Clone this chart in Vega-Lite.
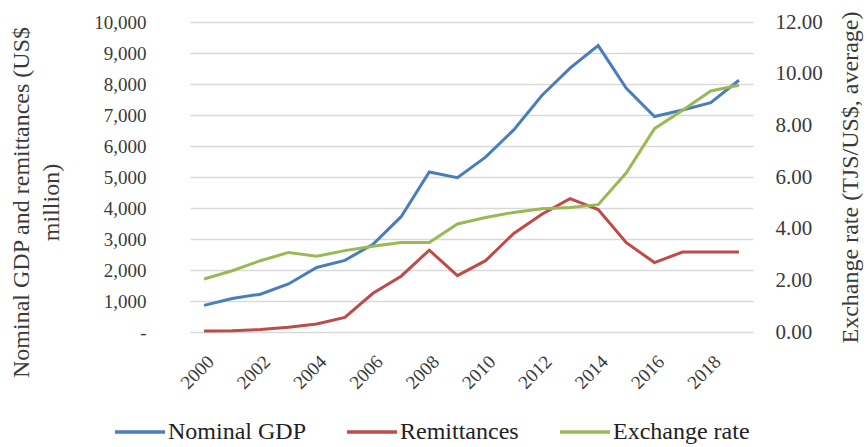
{
  "$schema": "https://vega.github.io/schema/vega-lite/v6.json",
  "width": 563,
  "height": 310,
  "autosize": {"type": "none"},
  "padding": {"left": 190, "top": 22, "right": 114, "bottom": 115},
  "background": "white",
  "config": {
    "font": "Liberation Serif",
    "view": {"stroke": null},
    "axis": {"labelFont": "Liberation Serif", "titleFont": "Liberation Serif", "labelColor": "#3a3a3a", "titleColor": "#3a3a3a", "titleFontWeight": "normal"},
    "legend": {"labelFont": "Liberation Serif"}
  },
  "data": {
    "values": [
      {"year": "2000", "series": "Nominal GDP", "value": 860},
      {"year": "2001", "series": "Nominal GDP", "value": 1080},
      {"year": "2002", "series": "Nominal GDP", "value": 1220},
      {"year": "2003", "series": "Nominal GDP", "value": 1550},
      {"year": "2004", "series": "Nominal GDP", "value": 2080},
      {"year": "2005", "series": "Nominal GDP", "value": 2310},
      {"year": "2006", "series": "Nominal GDP", "value": 2830},
      {"year": "2007", "series": "Nominal GDP", "value": 3720},
      {"year": "2008", "series": "Nominal GDP", "value": 5160},
      {"year": "2009", "series": "Nominal GDP", "value": 4980},
      {"year": "2010", "series": "Nominal GDP", "value": 5640},
      {"year": "2011", "series": "Nominal GDP", "value": 6520},
      {"year": "2012", "series": "Nominal GDP", "value": 7630},
      {"year": "2013", "series": "Nominal GDP", "value": 8510},
      {"year": "2014", "series": "Nominal GDP", "value": 9240},
      {"year": "2015", "series": "Nominal GDP", "value": 7860},
      {"year": "2016", "series": "Nominal GDP", "value": 6950},
      {"year": "2017", "series": "Nominal GDP", "value": 7160},
      {"year": "2018", "series": "Nominal GDP", "value": 7400},
      {"year": "2019", "series": "Nominal GDP", "value": 8120},
      {"year": "2000", "series": "Remittances", "value": 30},
      {"year": "2001", "series": "Remittances", "value": 40},
      {"year": "2002", "series": "Remittances", "value": 80},
      {"year": "2003", "series": "Remittances", "value": 150},
      {"year": "2004", "series": "Remittances", "value": 260},
      {"year": "2005", "series": "Remittances", "value": 470},
      {"year": "2006", "series": "Remittances", "value": 1250},
      {"year": "2007", "series": "Remittances", "value": 1800},
      {"year": "2008", "series": "Remittances", "value": 2640},
      {"year": "2009", "series": "Remittances", "value": 1820},
      {"year": "2010", "series": "Remittances", "value": 2300},
      {"year": "2011", "series": "Remittances", "value": 3180},
      {"year": "2012", "series": "Remittances", "value": 3800},
      {"year": "2013", "series": "Remittances", "value": 4300},
      {"year": "2014", "series": "Remittances", "value": 3950},
      {"year": "2015", "series": "Remittances", "value": 2880},
      {"year": "2016", "series": "Remittances", "value": 2240},
      {"year": "2017", "series": "Remittances", "value": 2580},
      {"year": "2018", "series": "Remittances", "value": 2580},
      {"year": "2019", "series": "Remittances", "value": 2580},
      {"year": "2000", "series": "Exchange rate", "value": 2.05},
      {"year": "2001", "series": "Exchange rate", "value": 2.37},
      {"year": "2002", "series": "Exchange rate", "value": 2.76},
      {"year": "2003", "series": "Exchange rate", "value": 3.08},
      {"year": "2004", "series": "Exchange rate", "value": 2.93},
      {"year": "2005", "series": "Exchange rate", "value": 3.15},
      {"year": "2006", "series": "Exchange rate", "value": 3.32},
      {"year": "2007", "series": "Exchange rate", "value": 3.46},
      {"year": "2008", "series": "Exchange rate", "value": 3.46},
      {"year": "2009", "series": "Exchange rate", "value": 4.18},
      {"year": "2010", "series": "Exchange rate", "value": 4.43},
      {"year": "2011", "series": "Exchange rate", "value": 4.63},
      {"year": "2012", "series": "Exchange rate", "value": 4.77},
      {"year": "2013", "series": "Exchange rate", "value": 4.82},
      {"year": "2014", "series": "Exchange rate", "value": 4.93},
      {"year": "2015", "series": "Exchange rate", "value": 6.16},
      {"year": "2016", "series": "Exchange rate", "value": 7.87},
      {"year": "2017", "series": "Exchange rate", "value": 8.58},
      {"year": "2018", "series": "Exchange rate", "value": 9.33},
      {"year": "2019", "series": "Exchange rate", "value": 9.55}
    ]
  },
  "encoding": {
    "x": {
      "field": "year", "type": "ordinal",
      "scale": {"type": "point", "padding": 0.5},
      "axis": {
        "title": null, "labelAngle": -45, "ticks": false, "domain": false, "grid": false,
        "labelFontSize": 19, "labelPadding": 20,
        "labelExpr": "toNumber(datum.value) % 2 == 0 ? datum.value : ''"
      }
    },
    "color": {
      "field": "series", "type": "nominal",
      "scale": {"domain": ["Nominal GDP", "Remittances", "Exchange rate"], "range": ["#4a7ebb", "#be4b48", "#98b954"]},
      "legend": {
        "title": null, "orient": "none", "legendX": -77, "legendY": 383, "direction": "horizontal",
        "symbolType": "stroke", "symbolStrokeWidth": 3.5, "symbolSize": 2500,
        "labelFontSize": 24, "labelColor": "#222222", "labelOffset": 1, "columnPadding": 34, "padding": 0
      }
    }
  },
  "layer": [
    {
      "transform": [{"filter": "datum.series != 'Exchange rate'"}],
      "mark": {"type": "line", "strokeWidth": 3},
      "encoding": {
        "y": {
          "field": "value", "type": "quantitative",
          "scale": {"domain": [0, 10000]},
          "axis": {
            "title": ["Nominal GDP and remittances (US$", "million)"],
            "titleFontSize": 24, "titlePadding": 30, "titleLineHeight": 30, "titleY": 180,
            "values": [0, 1000, 2000, 3000, 4000, 5000, 6000, 7000, 8000, 9000, 10000],
            "labelExpr": "datum.value == 0 ? '-' : format(datum.value, ',')",
            "labelFontSize": 19, "labelPadding": 44, "ticks": false, "domain": false,
            "grid": true, "gridColor": "#d9d9d9", "gridWidth": 1.5
          }
        }
      }
    },
    {
      "transform": [{"filter": "datum.series == 'Exchange rate'"}],
      "mark": {"type": "line", "strokeWidth": 3},
      "encoding": {
        "y": {
          "field": "value", "type": "quantitative",
          "scale": {"domain": [0, 12]},
          "axis": {
            "orient": "right",
            "title": "Exchange rate (TJS/US$, average)",
            "titleAngle": 270, "titleFontSize": 24, "titlePadding": 40,
            "values": [0, 2, 4, 6, 8, 10, 12], "format": ".2f",
            "labelFontSize": 21, "labelPadding": 22, "ticks": false, "domain": false, "grid": false
          }
        }
      }
    }
  ],
  "resolve": {"scale": {"y": "independent"}}
}
